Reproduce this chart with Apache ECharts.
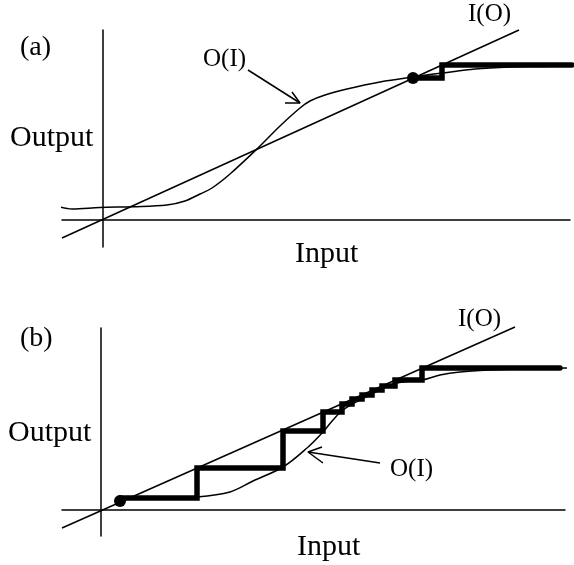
<!DOCTYPE html>
<html>
<head>
<meta charset="utf-8">
<script src="https://cdn.jsdelivr.net/npm/echarts@6/dist/echarts.min.js"></script>
<style>
  html, body { margin: 0; padding: 0; background: #fff; }
  #chart { width: 574px; height: 565px; }
</style>
</head>
<body>
<div id="chart"></div>
<script>
// panel (a): input/output units, origin where the axes cross
const lineA = [[-41, -18], [416, 190]]
const curveA = [[-43, 13], [-31, 11], [-3, 12.5], [30, 13.3], [64, 15], [82, 19], [97, 26], [109, 32],
  [127, 46], [155, 72], [177, 94], [197, 112], [207, 119], [222, 125], [244, 131], [277, 138],
  [310, 143], [340, 147], [372, 151], [407, 153], [437, 153.5], [469, 154]]
const stairA = [[310, 142], [339, 142], [339, 155], [469, 155]]
const dotA = [[310, 142]]
const arrowA = [[145, 150], [197, 117]]
const headA = [[182, 117], [197, 117], [189, 128]]

// panel (b)
const lineB = [[-39, -18], [414, 183]]
const curveB = [[96, 13], [129, 18], [152, 29], [182, 43], [206, 62], [222, 78], [232, 90], [242, 100],
  [259, 110], [279, 120], [296, 127], [321, 130], [339, 135], [359, 138], [389, 140], [429, 141.5], [469, 142]]
const stairB = [[19, 12], [96, 12], [96, 42], [182, 42], [182, 79], [222, 79], [222, 98], [241, 98],
  [241, 106], [251, 106], [251, 111], [261, 111], [261, 115], [271, 115], [271, 120], [281, 120],
  [281, 124], [294, 124], [294, 130], [321, 130], [321, 142], [459, 142]]
const dotB = [[19, 9]]
const arrowB = [[279, 47], [207, 58]]
const headB = [[221, 63], [207, 58], [222, 47]]

const font = '"Liberation Serif", "Times New Roman", serif'

function axisPair (min, max) {
  return {
    type: 'value',
    min: min,
    max: max,
    axisLine: { show: true, onZero: true, lineStyle: { color: '#000', width: 1.5 } },
    axisTick: { show: false },
    axisLabel: { show: false },
    splitLine: { show: false }
  }
}

function thin (data, idx, smooth) {
  return {
    type: 'line',
    data: data,
    xAxisIndex: idx,
    yAxisIndex: idx,
    showSymbol: false,
    smooth: smooth || false,
    clip: false,
    lineStyle: { color: '#000', width: 1.5 },
    z: 2
  }
}

function stair (data, idx) {
  return {
    type: 'line',
    data: data,
    xAxisIndex: idx,
    yAxisIndex: idx,
    showSymbol: false,
    clip: false,
    lineStyle: { color: '#000', width: 5.5, cap: 'round', join: 'miter' },
    z: 3
  }
}

function dot (data, idx) {
  return {
    type: 'scatter',
    data: data,
    xAxisIndex: idx,
    yAxisIndex: idx,
    symbolSize: 12,
    itemStyle: { color: '#000', opacity: 1 },
    z: 4
  }
}

function label (text, x, baseline, size) {
  return {
    type: 'text',
    x: x,
    y: baseline - size * 0.34,
    style: { text: text, font: size + 'px ' + font, fill: '#000', verticalAlign: 'middle' }
  }
}

const chart = echarts.init(document.getElementById('chart'))
chart.setOption({
  backgroundColor: '#fff',
  animation: false,
  grid: [
    { left: 62, top: 30, width: 508, height: 217 },
    { left: 62, top: 328, width: 503, height: 208 }
  ],
  xAxis: [
    Object.assign(axisPair(-41, 467), { gridIndex: 0 }),
    Object.assign(axisPair(-39, 464), { gridIndex: 1 })
  ],
  yAxis: [
    Object.assign(axisPair(-27, 190), { gridIndex: 0 }),
    Object.assign(axisPair(-26, 182), { gridIndex: 1 })
  ],
  series: [
    thin(lineA, 0),
    thin(curveA, 0, 0.35),
    thin(arrowA, 0),
    thin(headA, 0),
    stair(stairA, 0),
    dot(dotA, 0),
    thin(lineB, 1),
    thin(curveB, 1, 0.35),
    thin(arrowB, 1),
    thin(headB, 1),
    stair(stairB, 1),
    dot(dotB, 1)
  ],
  graphic: [
    label('(a)', 20, 57, 28),
    label('Output', 10, 148, 30),
    label('Input', 295, 264, 30),
    label('I(O)', 468, 23, 25),
    label('O(I)', 203, 68, 25),
    label('(b)', 20, 348, 28),
    label('Output', 8, 443, 30),
    label('Input', 297, 557, 30),
    label('I(O)', 458, 328, 25),
    label('O(I)', 390, 478, 25)
  ]
})
</script>
</body>
</html>
